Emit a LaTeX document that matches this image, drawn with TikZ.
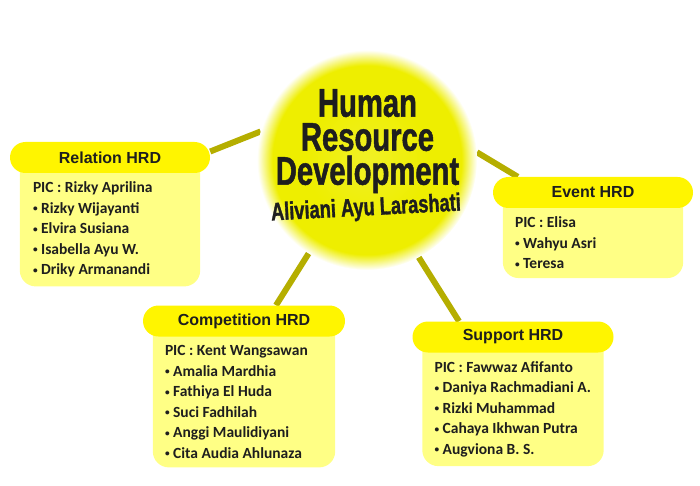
\documentclass[tikz,border=0pt]{standalone}
\usepackage{fontspec}
\setmainfont{Carlito}
\newfontfamily\headfont{Liberation Sans}
\newfontfamily\titlefont[FakeStretch=0.73, FakeBold=1.2]{Liberation Sans}
\usetikzlibrary{positioning,fit,backgrounds}

\definecolor{ballyellow}{HTML}{EEEE00}
\definecolor{headyellow}{HTML}{FFF500}
\definecolor{bodyyellow}{HTML}{FFFF85}
\definecolor{linkolive}{HTML}{B5AE00}
\definecolor{inkgray}{HTML}{1E1E1E}

\pgfdeclareradialshading{ballglow}{\pgfpoint{0bp}{0bp}}{color(0bp)=(ballyellow!85!white); color(14bp)=(ballyellow); color(21.5bp)=(ballyellow); color(25bp)=(white); color(50bp)=(white)}

\newcommand{\itm}{\raisebox{0.2ex}{\scalebox{0.6}{•}}\ }

\tikzset{
  hrdball/.style={circle, minimum size=220pt, inner sep=0pt, shading=ballglow},
  headbox/.style={rounded corners=15.5pt, fill=headyellow, minimum width=200pt, minimum height=31pt,
    font=\headfont\bfseries\fontsize{16}{18}\selectfont, text=inkgray},
  items/.style={align=left, inner sep=0pt, anchor=north west,
    font=\bfseries\fontsize{15.5}{20.5}\selectfont, text=inkgray},
  bodybox/.style={rounded corners=16pt, fill=bodyyellow, inner sep=0pt},
  link/.style={line width=6pt, linkolive},
}

\begin{document}
\begin{tikzpicture}[x=1pt, y=1pt]
  \useasboundingbox (0,0) rectangle (700,485);

  % central ball
  \node[hrdball] (hrd) at (367,325) {};
  \node[anchor=north, align=center, inner sep=0pt, text=inkgray,
    font=\titlefont\bfseries\fontsize{40}{34}\selectfont] (title) at (367.5,396)
    {Human\\Resource\\Development};
  \node[inner sep=0pt, rotate=3, text=inkgray,
    font=\titlefont\bfseries\fontsize{25}{26}\selectfont] (name) at (366,276)
    {Aliviani Ayu Larashati};

  % divisions
  \node[headbox] (relhead) at (110,327.5) {Relation HRD};
  \node[items] (relitems) at ([xshift=23pt,yshift=-8.5pt]relhead.south west)
    {PIC : Rizky Aprilina\\\itm Rizky Wijayanti\\\itm Elvira Susiana\\\itm Isabella Ayu W.\\\itm Driky Armanandi};

  \node[headbox] (evhead) at (593,292.5) {Event HRD};
  \node[items] (evitems) at ([xshift=22pt,yshift=-8.5pt]evhead.south west)
    {PIC : Elisa\\\itm Wahyu Asri\\\itm Teresa};

  \node[headbox, minimum width=202pt] (comphead) at (244,164) {Competition HRD};
  \node[items] (compitems) at ([xshift=22pt,yshift=-8.5pt]comphead.south west)
    {PIC : Kent Wangsawan\\\itm Amalia Mardhia\\\itm Fathiya El Huda\\\itm Suci Fadhilah\\\itm Anggi Maulidiyani\\\itm Cita Audia Ahlunaza};

  \node[headbox, minimum width=201pt] (suphead) at (513,148) {Support HRD};
  \node[items] (supitems) at ([xshift=22pt,yshift=-8.5pt]suphead.south west)
    {PIC : Fawwaz Afifanto\\\itm Daniya Rachmadiani A.\\\itm Rizki Muhammad\\\itm Cahaya Ikhwan Putra\\\itm Augviona B. S.};

  \begin{scope}[on background layer]
    % connectors
    \draw[link] ([yshift=6pt]relhead.east) -- (hrd.165);
    \draw[link] ([xshift=25pt]evhead.north west) -- (hrd.4);
    \draw[link] ([xshift=32pt]comphead.north) -- (hrd.238);
    \draw[link] ([xshift=-54pt]suphead.north) -- (hrd.298);
    % bodies
    \node[bodybox, fit={(relhead.center) ([xshift=10pt]relhead.west) ([xshift=-10pt]relhead.east) ([yshift=-9pt]relitems.south)}] (relbody) {};
    \node[bodybox, fit={(evhead.center) ([xshift=10pt]evhead.west) ([xshift=-10pt]evhead.east) ([yshift=-9pt]evitems.south)}] (evbody) {};
    \node[bodybox, fit={(comphead.center) ([xshift=10pt]comphead.west) ([xshift=-10pt]comphead.east) ([yshift=-9pt]compitems.south)}] (compbody) {};
    \node[bodybox, fit={(suphead.center) ([xshift=10pt]suphead.west) ([xshift=-10pt]suphead.east) ([yshift=-9pt]supitems.south)}] (supbody) {};
  \end{scope}
\end{tikzpicture}
\end{document}
